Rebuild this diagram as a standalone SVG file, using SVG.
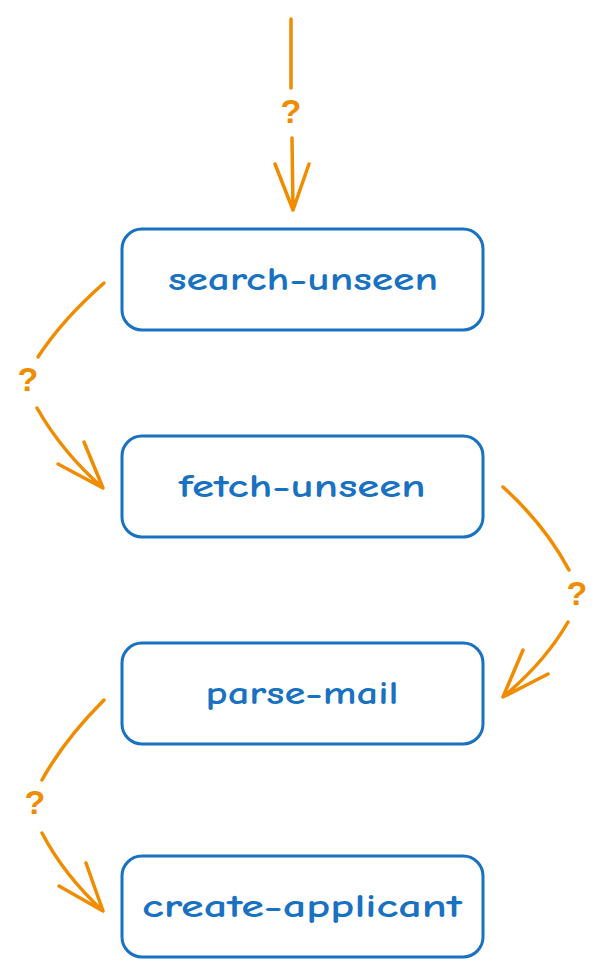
<svg xmlns="http://www.w3.org/2000/svg" width="606" height="978" viewBox="0 0 606 978">
<style>
.box{fill:#fff;stroke:#1971c2;stroke-width:3}
.lbl{font-family:"Comic Neue","Liberation Sans",sans-serif;font-weight:bold;font-size:33px;fill:#1971c2;text-anchor:middle;dominant-baseline:central}
.edge{fill:none;stroke:#f08c00;stroke-width:3.5;stroke-linecap:round;stroke-linejoin:round}
.q{font-family:"Liberation Sans",sans-serif;font-weight:bold;font-size:34px;fill:#f08c00;text-anchor:middle;dominant-baseline:central}
</style>
<rect width="606" height="978" fill="#fff"/>
<g id="connectors">
<g id="e0">
<path class="edge" d="M291,19 L291,88 M292,138 L293,210 M275,164 L293,210 L309,164"/>
<text class="q" x="291" y="111">?</text>
</g>
<g id="e1">
<path class="edge" d="M104,283 Q62,320 38,357 M37,408 Q62,452 103,488 M58,464 L103,488 L84,442"/>
<text class="q" x="28" y="379">?</text>
</g>
<g id="e2">
<path class="edge" d="M503,487 Q545,525 569,570 M568,622 Q545,662 503,697 M523,650 L503,697 L548,674"/>
<text class="q" x="577" y="593">?</text>
</g>
<g id="e3">
<path class="edge" d="M104,700 Q64,740 42,780 M42,833 Q64,875 103,911 M59,886 L103,911 L86,863"/>
<text class="q" x="35" y="802">?</text>
</g>
</g>
<g id="search-unseen">
<rect class="box" x="122" y="229" width="361" height="101" rx="20"/>
<text class="lbl" x="303" y="279" textLength="270" lengthAdjust="spacingAndGlyphs">search-unseen</text>
</g>
<g id="fetch-unseen">
<rect class="box" x="122" y="436" width="361" height="101" rx="20"/>
<text class="lbl" x="302" y="486" textLength="247" lengthAdjust="spacingAndGlyphs">fetch-unseen</text>
</g>
<g id="parse-mail">
<rect class="box" x="122" y="643" width="361" height="101" rx="20"/>
<text class="lbl" x="302" y="693" textLength="193" lengthAdjust="spacingAndGlyphs">parse-mail</text>
</g>
<g id="create-applicant">
<rect class="box" x="122" y="856" width="361" height="101" rx="20"/>
<text class="lbl" x="302" y="906" textLength="320" lengthAdjust="spacingAndGlyphs">create-applicant</text>
</g>
</svg>
